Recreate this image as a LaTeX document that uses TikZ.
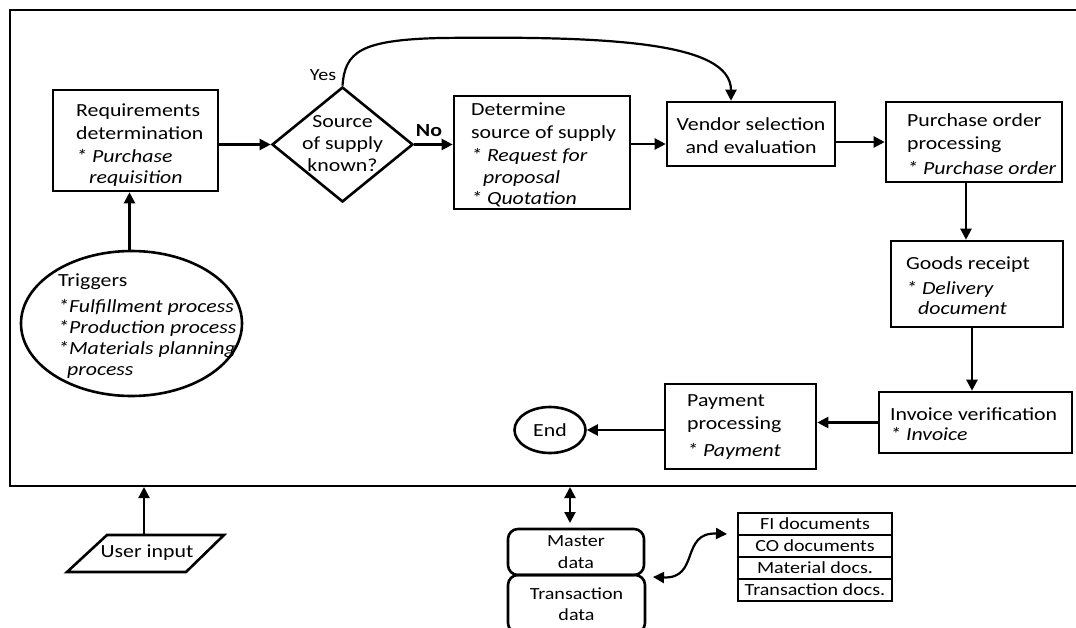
\documentclass[tikz,border=0pt]{standalone}
\usepackage{fontspec}
\setmainfont{Carlito}[FakeStretch=1.18]
\usetikzlibrary{shapes.geometric,arrows.meta}

\newcommand{\mainsize}{\fontsize{18.5}{23}\selectfont}
\newcommand{\smallsize}{\fontsize{17}{21.5}\selectfont}

\tikzset{
  boxed/.style={draw, line width=2.6pt, inner sep=0pt, rectangle},
  lbl/.style={anchor=north west, inner sep=0pt, align=left, font=\mainsize},
  clbl/.style={inner sep=0pt, align=center, font=\mainsize},
  roundbox/.style={draw, line width=2.6pt, inner sep=0pt, rounded corners=10pt},
  cell/.style={draw, line width=2.2pt, inner sep=0pt, minimum width=154pt,
               minimum height=22pt, font=\smallsize},
  arr/.style={line width=2.2pt, -{Triangle[length=11pt,width=11pt]}},
  darr/.style={line width=2.2pt, {Triangle[length=11pt,width=11pt]}-{Triangle[length=11pt,width=11pt]}},
}

\begin{document}
\begin{tikzpicture}[x=1pt,y=-1pt]
\useasboundingbox (0,0) rectangle (1076,627);
\fill[white] (0,0) rectangle (1076,627);

% system frame (its right side lies past the page edge)
\draw[line width=2.2pt] (10,10) rectangle (1090,486);

% process boxes
\node[boxed, minimum width=165pt, minimum height=101pt] (req) at (135.5,140.5) {};
\node[boxed, diamond, minimum width=141pt, minimum height=115pt] (dia) at (342.5,144.5) {};
\node[boxed, minimum width=176pt, minimum height=113pt] (det) at (542,152.5) {};
\node[boxed, minimum width=168pt, minimum height=64pt] (ven) at (751,134) {};
\node[boxed, minimum width=176pt, minimum height=80pt] (po) at (974,142) {};
\node[boxed, minimum width=172pt, minimum height=86pt] (gr) at (977,284) {};
\node[boxed, minimum width=193pt, minimum height=61pt] (iv) at (975.5,422.5) {};
\node[boxed, minimum width=151pt, minimum height=85pt] (pay) at (740.5,426.5) {};
\node[boxed, ellipse, minimum width=71pt, minimum height=46pt, font=\mainsize] (end) at (550,430) {End};
\node[boxed, ellipse, minimum width=221pt, minimum height=145pt] (trig) at (131.5,323.5) {};

% box texts
\node[lbl] (reqt) at (76,104) {Requirements\\ determination\\ \textit{* Purchase}\\[-2pt] \hspace*{13pt}\textit{requisition}};
\node[clbl] (diat) at (342.5,144) {Source\\[-1pt] of supply\\[-1pt] known?};
\node[lbl] (dett) at (471,103) {Determine\\ source of supply\\ \textit{* Request for}\\[-1pt] \hspace*{12pt}\textit{proposal}\\[-2pt] \textit{* Quotation}};
\node[clbl] (vent) at (751,135.5) {Vendor selection\\ and evaluation};
\node[lbl] (pot) at (907,113.5) {Purchase order\\ processing\\[2pt] \textit{* Purchase order}};
\node[lbl] (grt) at (906,256.5) {Goods receipt\\[2pt] \textit{* Delivery}\\[-3pt] \hspace*{12pt}\textit{document}};
\node[lbl] (ivt) at (890,407.5) {Invoice verification\\[-3pt] \textit{* Invoice}};
\node[lbl] (payt) at (687,394.5) {Payment\\ processing\\[4pt] \textit{* Payment}};
\node[lbl] (trigt) at (58,273.5) {Triggers\\[3pt] \textit{*Fulfillment process}\\[-2pt] \textit{*Production process}\\[-2pt] \textit{*Materials planning}\\[-2pt] \hspace*{9pt}\textit{process}};

% decision labels
\node[inner sep=0pt, font=\smallsize] (yes) at (323,75) {Yes};
\node[inner sep=0pt, font=\mainsize\bfseries] (no) at (429,131) {No};

% flow connectors
\coordinate (lvl) at (0,144);
\draw[arr] ([xshift=-2pt]trig.north) -- ([xshift=-2pt]trig.north |- req.south);
\draw[arr] (req.east |- dia.west) -- (dia.west);
\draw[arr] (dia.east) -- (dia.east -| det.west);
\draw[arr] (det.east |- lvl) -- (ven.west |- lvl);
\draw[arr] (ven.east |- po.west) -- (po.west);
\draw[arr] ([xshift=-8pt]po.south) -- ([xshift=-8pt]po.south |- gr.north);
\draw[arr] ([xshift=-5pt]gr.south) -- ([xshift=-5pt]gr.south |- iv.north);
\draw[arr] (iv.west) -- (iv.west -| pay.east);
\draw[arr] (pay.west |- end.east) -- (end.east);
\draw[arr] (dia.north) .. controls (345,52) and (360,40) .. (440,38)
           .. controls (610,36) and (731,42) .. ([xshift=-20pt]ven.north);

% user input
\coordinate (uia) at (107,535);
\coordinate (uib) at (224,535);
\coordinate (uic) at (186,572);
\coordinate (uid) at (67,572);
\draw[line width=2.6pt] (uia) -- (uib) -- (uic) -- (uid) -- cycle;
\node[inner sep=0pt, font=\mainsize] (ui) at (147,553) {User input};
\coordinate (uitop) at (144,535);
\coordinate (uiin) at (144,487);
\draw[arr] (uitop) -- (uiin);

% data stores
\node[roundbox, minimum width=136pt, minimum height=46pt] (md) at (576,552) {};
\node[roundbox, minimum width=137pt, minimum height=58pt] (td) at (576.5,604) {};
\node[clbl, font=\smallsize] (mdt) at (md.center) {Master\\ data};
\node[clbl, font=\smallsize] (tdt) at (td.center) {Transaction\\ data};
\coordinate (dbt) at (570,487);
\coordinate (dbb) at (570,523);
\draw[darr] (dbt) -- (dbb);

% document list
\node[cell] (c1) at (815,524) {FI documents};
\node[cell] (c2) at (815,546) {CO documents};
\node[cell] (c3) at (815,568) {Material docs.};
\node[cell] (c4) at (815,590) {Transaction docs.};
\coordinate (cl) at (653,577);
\coordinate (cr) at (727,534);
\draw[darr] (cl) .. controls (700,579) and (680,532) .. (cr);

\end{tikzpicture}
\end{document}
